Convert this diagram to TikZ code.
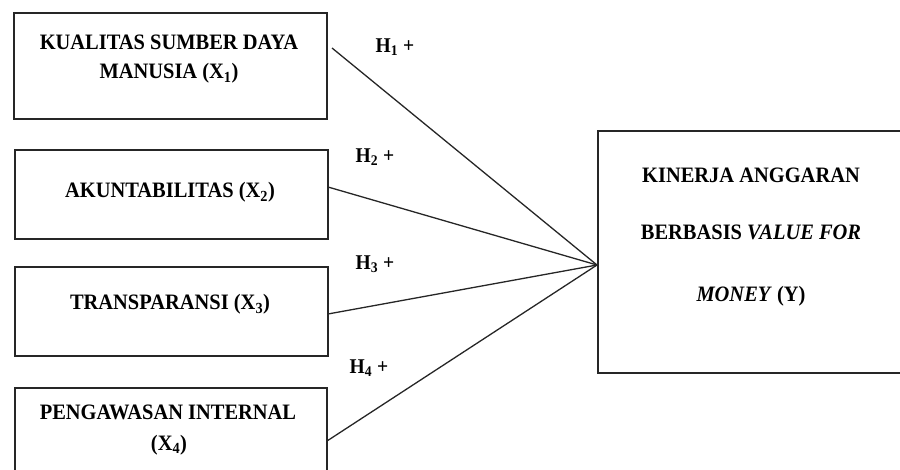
\documentclass[tikz,border=0pt]{standalone}
\usepackage{fontspec}
\setmainfont{Liberation Serif}[FakeStretch=0.93]
\begin{document}
\begin{tikzpicture}[x=1pt,y=-1pt,
  box/.style={draw=black!85, line width=1.6pt, inner sep=0pt, anchor=north west},
  txt/.style={font=\fontsize{22}{26}\selectfont\bfseries, anchor=base, inner sep=0pt},
  hyp/.style={font=\fontsize{21}{25}\selectfont\bfseries, anchor=center, inner sep=0pt},
  link/.style={draw=black!85, line width=1.3pt}]
\useasboundingbox (0,0) rectangle (900,470);
% boxes
\node[box, minimum width=313pt, minimum height=106pt] (b1) at (13,12) {};
\node[box, minimum width=313pt, minimum height=89pt] (b2) at (14,149) {};
\node[box, minimum width=313pt, minimum height=89pt] (b3) at (14,266) {};
\node[box, minimum width=312pt, minimum height=100pt] (b4) at (14,387) {};
\node[box, minimum width=310pt, minimum height=242pt] (y) at (597,130) {};
% texts
\node[txt] (t1a) at (169,50) {KUALITAS SUMBER DAYA};
\node[txt] (t1b) at (169,79) {MANUSIA (X\textsubscript{1})};
\node[txt] (t2) at (170,198) {AKUNTABILITAS (X\textsubscript{2})};
\node[txt] (t3) at (170,310) {TRANSPARANSI (X\textsubscript{3})};
\node[txt] (t4a) at (168,420) {PENGAWASAN INTERNAL};
\node[txt] (t4b) at (169,450) {(X\textsubscript{4})};
\node[txt] (ya) at (751,183) {KINERJA ANGGARAN};
\node[txt] (yb) at (751,240) {BERBASIS \textit{VALUE FOR}};
\node[txt] (yc) at (751,302) {\textit{MONEY} (Y)};
% hypothesis labels
\node[hyp] (h1) at (395,47) {H\textsubscript{1} +};
\node[hyp] (h2) at (375,157) {H\textsubscript{2} +};
\node[hyp] (h3) at (375,264) {H\textsubscript{3} +};
\node[hyp] (h4) at (369,368) {H\textsubscript{4} +};
% connectors
\coordinate (s1) at (332,48);
\coordinate (s2) at (328,187);
\coordinate (s3) at (328,314);
\coordinate (s4) at (327,441);
\coordinate (yin) at (597,265);
\draw[link] (s1) -- (yin);
\draw[link] (s2) -- (yin);
\draw[link] (s3) -- (yin);
\draw[link] (s4) -- (yin);
\end{tikzpicture}
\end{document}
